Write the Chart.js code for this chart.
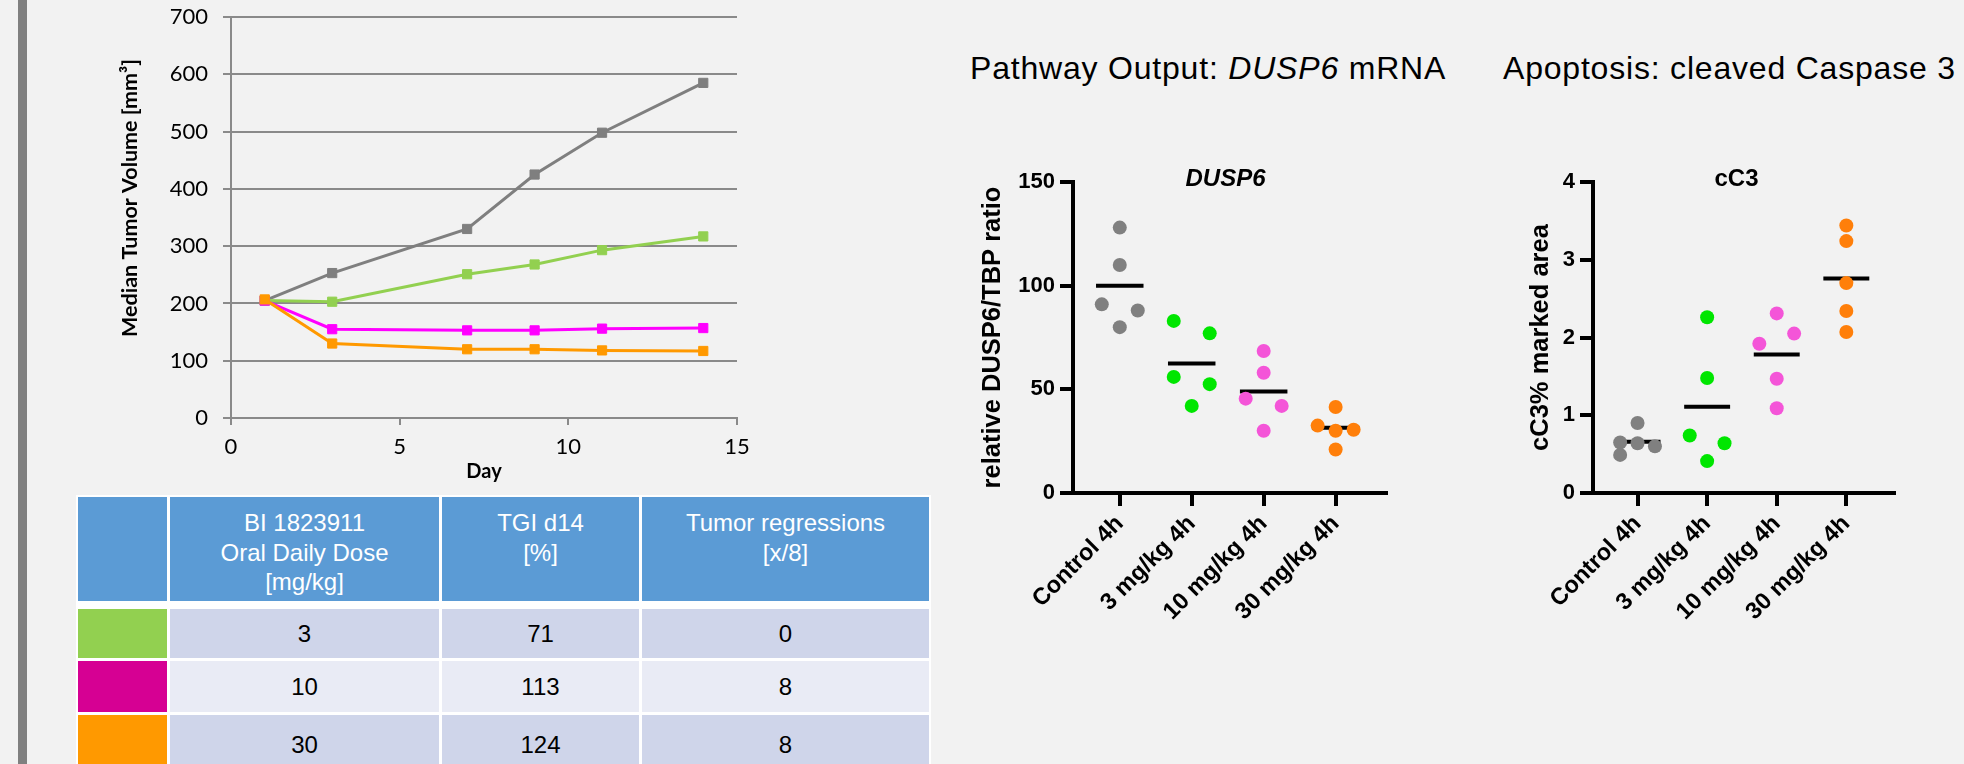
<!DOCTYPE html>
<html>
<head>
<meta charset="utf-8">
<script src="https://cdn.jsdelivr.net/npm/chart.js@4.4.1/dist/chart.umd.min.js"></script>
<style>
  html, body { margin:0; padding:0; background:#f2f2f2; width:1964px; height:764px; overflow:hidden; position:relative; font-family:"Liberation Sans", Arial, sans-serif; }
  .sidebar { position:absolute; left:18px; top:0; width:9px; height:764px; background:#808080; }
  .box { position:absolute; }
  .panelTitle { position:absolute; font-size:32px; line-height:36px; color:#000; white-space:nowrap; letter-spacing:0.8px; }
  #tableBg { position:absolute; left:76px; top:495px; width:855px; height:280px; background:#ffffff; }
  .cell { position:absolute; box-sizing:border-box; font-size:24px; display:flex; justify-content:center; text-align:center; white-space:pre-line; }
  .head { background:#5b9bd5; color:#fff; align-items:flex-start; padding-top:11px; line-height:29.5px; }
  .body { align-items:center; color:#000; line-height:28px; }
</style>
</head>
<body>
<div class="sidebar"></div>

<div class="box" style="left:100px;top:0px;width:680px;height:495px;"><canvas id="growth" width="680" height="495"></canvas></div>

<div id="tableBg"></div>
<div id="tableCells"></div>

<div class="panelTitle" style="left:970px;top:50px;">Pathway Output: <i>DUSP6</i> mRNA</div>
<div class="panelTitle" style="left:1503px;top:50px;">Apoptosis: cleaved Caspase 3</div>

<div class="box" style="left:940px;top:100px;width:470px;height:540px;"><canvas id="dusp6" width="470" height="540"></canvas></div>
<div class="box" style="left:1500px;top:100px;width:440px;height:540px;"><canvas id="cc3" width="440" height="540"></canvas></div>

<script>
// ---------- Tumor growth data ----------
const days = [1, 3, 7, 9, 11, 14];
const volControl = [205, 253, 330, 425, 498, 585];
const vol3 = [205, 203, 251, 268, 293, 317];
const vol10 = [205, 155, 153, 153, 156, 157];
const vol30 = [207, 130, 120, 120, 118, 117];
const dayTicks = [0, 5, 10, 15];
const volumeTicks = [0, 100, 200, 300, 400, 500, 600, 700];

// ---------- Table data ----------
const tableHeader = ['', 'BI 1823911\nOral Daily Dose\n[mg/kg]', 'TGI d14\n[%]', 'Tumor regressions\n[x/8]'];
const doses = ['3', '10', '30'];
const tgiD14 = ['71', '113', '124'];
const regressions = ['0', '8', '8'];

// ---------- Scatter data ----------
const groups = ['Control 4h', '3 mg/kg 4h', '10 mg/kg 4h', '30 mg/kg 4h'];
const dusp6Control = [128, 110, 91, 88, 80];
const dusp6Dose3 = [83, 77, 56, 52.5, 42];
const dusp6Dose10 = [68.5, 58, 45.5, 42, 30];
const dusp6Dose30 = [41.5, 32.5, 30, 30.5, 21];
const dusp6Means = [100, 62.5, 49, 31.5];
const dusp6Ticks = [0, 50, 100, 150];

const cc3Control = [0.9, 0.65, 0.64, 0.6, 0.49];
const cc3Dose3 = [2.26, 1.48, 0.74, 0.64, 0.41];
const cc3Dose10 = [2.31, 2.05, 1.92, 1.47, 1.09];
const cc3Dose30 = [3.44, 3.24, 2.70, 2.34, 2.07];
const cc3Means = [0.66, 1.11, 1.78, 2.76];
const cc3Ticks = [0, 1, 2, 3, 4];

// horizontal spread of dots within a group (layout only)
const dusp6Spread = [[0, 0, -0.25, 0.25, 0], [-0.25, 0.25, -0.25, 0.25, 0], [0, 0, -0.25, 0.25, 0], [0, -0.25, 0, 0.25, 0]];
const cc3Spread = [[0, -0.25, 0, 0.25, -0.25], [0, 0, -0.25, 0.25, 0], [0, 0.25, -0.25, 0, 0], [0, 0, 0, 0, 0]];

// ---------- styles ----------
const lineColors = ['#7f7f7f', '#92d050', '#ff00ff', '#ff9900'];
const swatchColors = ['#92d050', '#d60093', '#ff9900'];
const groupColors = ['#808080', '#00e600', '#f455d8', '#ff7f0a'];

Chart.defaults.color = '#000';
Chart.defaults.font.family = '"Liberation Sans", Arial, sans-serif';

function textPlugin(id, items) {
  return {
    id: id,
    afterDraw(chart) {
      const ctx = chart.ctx;
      items.forEach(it => {
        const p = it.pos(chart);
        ctx.save();
        ctx.translate(p.x, p.y);
        if (it.rotate) ctx.rotate(it.rotate);
        ctx.font = it.font;
        ctx.fillStyle = '#000';
        ctx.textAlign = 'center';
        ctx.textBaseline = 'middle';
        ctx.fillText(it.text, 0, 0);
        ctx.restore();
      });
    }
  };
}

// ---------- Growth chart ----------
const growthSeries = [volControl, vol3, vol10, vol30];
const growthOrder = [4, 3, 2, 1];
new Chart(document.getElementById('growth'), {
  type: 'line',
  data: {
    datasets: growthSeries.map((s, i) => ({
      data: days.map((d, k) => ({ x: d, y: s[k] })),
      borderColor: lineColors[i],
      backgroundColor: lineColors[i],
      pointBackgroundColor: lineColors[i],
      pointBorderColor: lineColors[i],
      pointStyle: 'rect',
      pointRadius: 6.5,
      pointBorderWidth: 1,
      borderWidth: 3,
      tension: 0,
      order: growthOrder[i]
    }))
  },
  options: {
    responsive: false, animation: false,
    layout: { padding: { left: 0, right: 43, top: 17, bottom: 0 } },
    plugins: { legend: { display: false }, tooltip: { enabled: false } },
    scales: {
      x: {
        type: 'linear', min: 0, max: 15,
        afterBuildTicks: s => { s.ticks = dayTicks.map(v => ({ value: v })); },
        afterFit: s => { s.height = 77; },
        ticks: { font: { family: 'Lato', size: 22 }, color: '#000', padding: 9 },
        grid: { drawOnChartArea: false, color: '#8a8a8a', lineWidth: 2, tickLength: 7 },
        border: { color: '#8a8a8a', width: 2 },
        title: { display: true, text: 'Day', font: { family: 'Lato', size: 20, weight: 'bold' }, padding: { top: 0, bottom: 11 } }
      },
      y: {
        min: 0, max: 700,
        afterBuildTicks: s => { s.ticks = volumeTicks.map(v => ({ value: v })); },
        afterFit: s => { s.width = 131; s.paddingTop = 0; s.paddingBottom = 0; },
        ticks: { font: { family: 'Lato', size: 22 }, color: '#000', padding: 15 },
        grid: { color: '#8a8a8a', lineWidth: 2, tickLength: 8 },
        border: { color: '#8a8a8a', width: 2 }
      }
    }
  },
  plugins: [textPlugin('growthYTitle', [
    { text: 'Median Tumor Volume [mm³]', font: 'bold 21.5px Lato', rotate: -Math.PI / 2, pos: () => ({ x: 30, y: 198 }) }
  ])]
});

// ---------- Table ----------
(function buildTable() {
  const colX = [78, 170, 442, 642];
  const colW = [89, 269, 197, 287];
  const rowY = [497, 609, 661, 715];
  const rowH = [104, 49, 51, 60];
  const rowBg = ['#cfd5ea', '#e9ebf5', '#cfd5ea'];
  const host = document.getElementById('tableCells');
  function cell(cls, x, y, w, h, text, bg) {
    const d = document.createElement('div');
    d.className = 'cell ' + cls;
    d.style.left = x + 'px'; d.style.top = y + 'px';
    d.style.width = w + 'px'; d.style.height = h + 'px';
    if (bg) d.style.background = bg;
    d.textContent = text;
    host.appendChild(d);
  }
  tableHeader.forEach((t, c) => cell('head', colX[c], rowY[0], colW[c], rowH[0], t));
  doses.forEach((dose, r) => {
    const vals = ['', dose, tgiD14[r], regressions[r]];
    vals.forEach((v, c) => cell('body', colX[c], rowY[r + 1], colW[c], rowH[r + 1], v, c === 0 ? swatchColors[r] : rowBg[r]));
  });
})();

// ---------- Dot plots ----------
function buildDotPlot(canvasId, cfg) {
  const datasets = cfg.values.map((vals, g) => ({
    data: vals.map((v, k) => ({ x: g + cfg.spread[g][k], y: v })),
    pointBackgroundColor: groupColors[g],
    backgroundColor: groupColors[g],
    pointBorderWidth: 0,
    pointRadius: 7,
    pointHoverRadius: 7,
    showLine: false,
    order: 1
  }));
  const meanData = [];
  cfg.means.forEach((m, g) => { meanData.push({ x: g - 0.33, y: m }, { x: g + 0.33, y: m }, { x: g + 0.5, y: null }); });
  datasets.push({
    data: meanData, showLine: true, spanGaps: false, borderColor: '#000', borderWidth: 4,
    pointRadius: 0, pointHoverRadius: 0, borderCapStyle: 'butt', order: 2
  });
  return new Chart(document.getElementById(canvasId), {
    type: 'scatter',
    data: { datasets },
    options: {
      responsive: false, animation: false,
      layout: { padding: { left: 0, right: cfg.padRight, top: 82, bottom: 0 } },
      plugins: { legend: { display: false }, tooltip: { enabled: false } },
      scales: {
        x: {
          type: 'linear', min: cfg.xMin, max: cfg.xMax,
          afterBuildTicks: s => { s.ticks = groups.map((g, i) => ({ value: i })); },
          afterFit: s => { s.height = 147; },
          ticks: {
            callback: v => groups[v] !== undefined ? groups[v] : '',
            autoSkip: false, minRotation: 45, maxRotation: 45,
            font: { size: 23.5, weight: 'bold' }, color: '#000', padding: 4
          },
          grid: { drawOnChartArea: false, color: '#000', lineWidth: 4, tickLength: 13 },
          border: { color: '#000', width: 4 }
        },
        y: {
          min: cfg.yMin, max: cfg.yMax,
          afterBuildTicks: s => { s.ticks = cfg.yTicks.map(v => ({ value: v })); },
          afterFit: s => { s.width = cfg.yWidth; },
          ticks: { font: { size: 22, weight: 'bold' }, color: '#000', padding: 5 },
          grid: { drawOnChartArea: false, color: '#000', lineWidth: 4, tickLength: 13 },
          border: { color: '#000', width: 4 },
          title: { display: true, text: cfg.yTitle, font: { size: 25.5, weight: 'bold' }, padding: { top: cfg.yTitlePad, bottom: 0 } }
        }
      }
    },
    plugins: [textPlugin(canvasId + 'Sub', [
      { text: cfg.sub, font: cfg.subFont, pos: ch => ({ x: (ch.chartArea.left + ch.chartArea.right) / 2 + cfg.subDx, y: ch.chartArea.top - 3 }) }
    ])]
  });
}

buildDotPlot('dusp6', {
  values: [dusp6Control, dusp6Dose3, dusp6Dose10, dusp6Dose30],
  means: dusp6Means, spread: dusp6Spread, yTicks: dusp6Ticks,
  yMin: 0, yMax: 150, xMin: -0.65, xMax: 3.7,
  yWidth: 133, padRight: 24, yTitlePad: 38,
  yTitle: 'relative DUSP6/TBP ratio',
  sub: 'DUSP6', subFont: 'italic bold 24px "Liberation Sans", Arial, sans-serif', subDx: -4
});

buildDotPlot('cc3', {
  values: [cc3Control, cc3Dose3, cc3Dose10, cc3Dose30],
  means: cc3Means, spread: cc3Spread, yTicks: cc3Ticks,
  yMin: 0, yMax: 4, xMin: -0.64, xMax: 3.685,
  yWidth: 93, padRight: 46, yTitlePad: 26,
  yTitle: 'cC3% marked area',
  sub: 'cC3', subFont: 'bold 24px "Liberation Sans", Arial, sans-serif', subDx: -7
});
</script>
</body>
</html>
